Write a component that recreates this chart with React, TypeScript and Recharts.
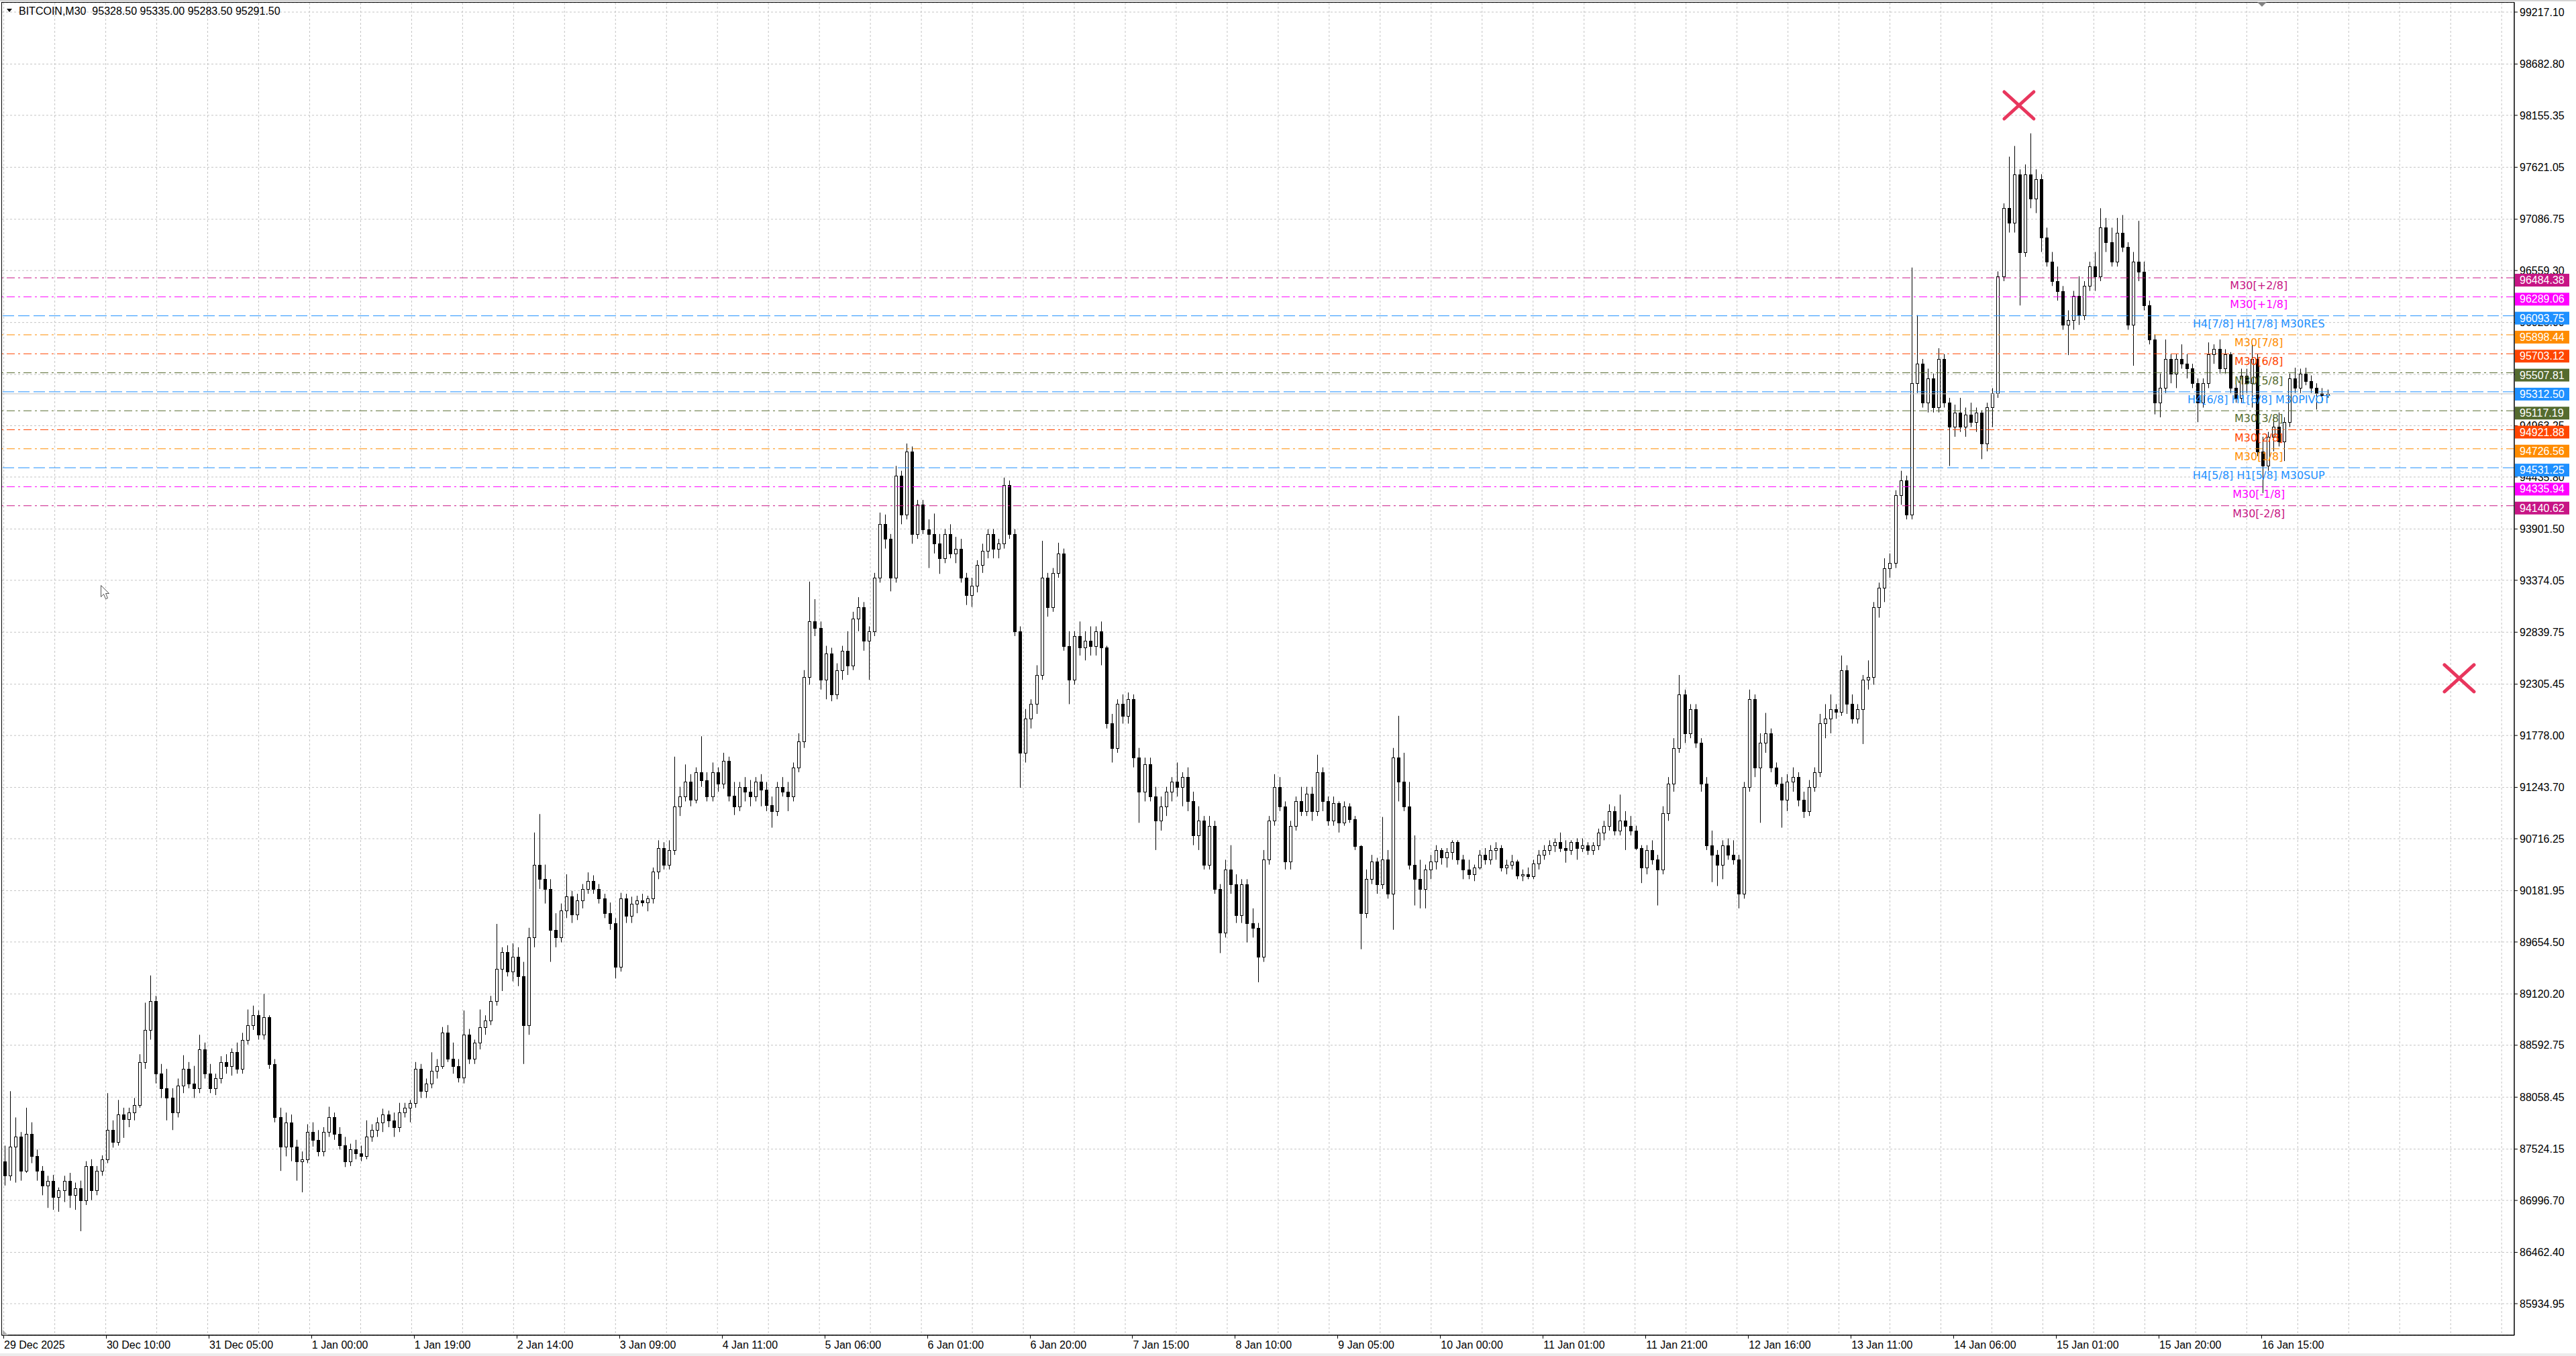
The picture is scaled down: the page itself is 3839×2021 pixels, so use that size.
import React from "react";
import { ComposedChart, Bar, XAxis, YAxis, CartesianGrid, ReferenceLine, Scatter } from "recharts";

const W = 3839;
const H = 2021;
const AXIS_FONT = '"Liberation Sans", Arial, sans-serif';
const LEVEL_FONT = '"DejaVu Sans", Verdana, sans-serif';

const symbol = "BITCOIN,M30";
const lastBar = [95328.5, 95335.0, 95283.5, 95291.5];
const bidPrice = 95291.5;

const timeLabels = [
  "29 Dec 2025", "30 Dec 10:00", "31 Dec 05:00", "1 Jan 00:00", "1 Jan 19:00", "2 Jan 14:00",
  "3 Jan 09:00", "4 Jan 11:00", "5 Jan 06:00", "6 Jan 01:00", "6 Jan 20:00", "7 Jan 15:00",
  "8 Jan 10:00", "9 Jan 05:00", "10 Jan 00:00", "11 Jan 01:00", "11 Jan 21:00", "12 Jan 16:00",
  "13 Jan 11:00", "14 Jan 06:00", "15 Jan 01:00", "15 Jan 20:00", "16 Jan 15:00",
];

const priceTicks = [
  99217.1, 98682.8, 98155.35, 97621.05, 97086.75, 96559.3, 96025.0, 95490.7, 94963.25,
  94435.8, 93901.5, 93374.05, 92839.75, 92305.45, 91778.0, 91243.7, 90716.25, 90181.95,
  89654.5, 89120.2, 88592.75, 88058.45, 87524.15, 86996.7, 86462.4, 85934.95,
];

// murrey math levels, top to bottom
const levelPrices = [
  96484.38, 96289.06, 96093.75, 95898.44, 95703.12, 95507.81, 95312.5,
  95117.19, 94921.88, 94726.56, 94531.25, 94335.94, 94140.62,
];
const levelNames = [
  "M30[+2/8]", "M30[+1/8]", "H4[7/8] H1[7/8] M30RES", "M30[7/8]", "M30[6/8]", "M30[5/8]",
  "H4[6/8] H1[6/8] M30PIVOT", "M30[3/8]", "M30[2/8]", "M30[1/8]", "H4[5/8] H1[5/8] M30SUP",
  "M30[-1/8]", "M30[-2/8]",
];
const levelColors = [
  "#C71585", "#FF00FF", "#1E90FF", "#FF8C00", "#FF4500", "#556B2F", "#1E90FF",
  "#556B2F", "#FF4500", "#FF8C00", "#1E90FF", "#FF00FF", "#C71585",
];

// hourly candles [open, high, low, close]
const hourlyOhlc: number[][] = [
  [87400, 87560, 87150, 87250], [87250, 88120, 87200, 87550], [87550, 87850, 87180, 87650], [87650, 87700, 87200, 87300], [87300, 87950, 87280, 87680],
  [87680, 87800, 87380, 87450], [87450, 87520, 87200, 87300], [87300, 87350, 87050, 87150], [87150, 87250, 86920, 87200], [87200, 87260, 86900, 87030],
  [87030, 87130, 86880, 87100], [87100, 87250, 86980, 87200], [87200, 87280, 86920, 87050], [87050, 87180, 86900, 87120], [87120, 87200, 86680, 87000],
  [87000, 87400, 86950, 87350], [87350, 87420, 87000, 87100], [87100, 87350, 87050, 87300], [87300, 87460, 87250, 87420], [87420, 88100, 87380, 87720],
  [87720, 87820, 87540, 87600], [87600, 88030, 87560, 87880], [87880, 87950, 87640, 87830], [87830, 87950, 87750, 87900], [87900, 88050, 87820, 87980],
  [87980, 88500, 87950, 88420], [88420, 89030, 88350, 88750], [88750, 89310, 88650, 89050], [89050, 89100, 88200, 88300], [88300, 88400, 88050, 88150],
  [88150, 88350, 87820, 88050], [88050, 88150, 87720, 87900], [87900, 88250, 87850, 88180], [88180, 88490, 88100, 88350], [88350, 88420, 88150, 88200],
  [88200, 88380, 88050, 88150], [88150, 88700, 88100, 88550], [88550, 88620, 88250, 88300], [88300, 88400, 88100, 88150], [88150, 88300, 88080, 88250],
  [88250, 88480, 88200, 88420], [88420, 88500, 88300, 88380], [88380, 88560, 88280, 88520], [88520, 88620, 88300, 88350], [88350, 88720, 88300, 88650],
  [88650, 88960, 88600, 88800], [88800, 89000, 88750, 88900], [88900, 88950, 88650, 88700], [88700, 89120, 88650, 88880], [88880, 88900, 88350, 88400],
  [88400, 88450, 87800, 87850], [87850, 87950, 87300, 87550], [87550, 87900, 87450, 87800], [87800, 87880, 87400, 87550], [87550, 87620, 87200, 87400],
  [87400, 87500, 87080, 87420], [87420, 87780, 87380, 87700], [87700, 87800, 87550, 87620], [87620, 87720, 87450, 87500], [87500, 87750, 87450, 87700],
  [87700, 87960, 87650, 87850], [87850, 87900, 87620, 87680], [87680, 87750, 87520, 87560], [87560, 87650, 87340, 87400], [87400, 87580, 87350, 87520],
  [87520, 87620, 87420, 87480], [87480, 87560, 87400, 87450], [87450, 87820, 87420, 87650], [87650, 87780, 87600, 87720], [87720, 87850, 87650, 87800],
  [87800, 87940, 87700, 87880], [87880, 87920, 87750, 87820], [87820, 87900, 87650, 87750], [87750, 88000, 87700, 87900], [87900, 88000, 87850, 87950],
  [87950, 88030, 87800, 88000], [88000, 88420, 87950, 88350], [88350, 88400, 88050, 88120], [88120, 88250, 88050, 88200], [88200, 88520, 88150, 88330],
  [88330, 88450, 88250, 88380], [88380, 88780, 88350, 88720], [88720, 88800, 88420, 88450], [88450, 88620, 88300, 88380], [88380, 88450, 88210, 88260],
  [88260, 88950, 88200, 88700], [88700, 88760, 88400, 88450], [88450, 88650, 88400, 88620], [88620, 88960, 88550, 88780], [88780, 88900, 88700, 88850],
  [88850, 89100, 88800, 89050], [89050, 89840, 89000, 89380], [89380, 89600, 89150, 89550], [89550, 89620, 89300, 89350], [89350, 89640, 89250, 89500],
  [89500, 89600, 89200, 89300], [89300, 89450, 88400, 88800], [88800, 89800, 88700, 89700], [89700, 90780, 89600, 90450], [90450, 90970, 90200, 90300],
  [90300, 90450, 90050, 90200], [90200, 90300, 89450, 89780], [89780, 89950, 89600, 89700], [89700, 90050, 89650, 89980], [89980, 90350, 89900, 90120],
  [90120, 90180, 89850, 89940], [89940, 90150, 89880, 90080], [90080, 90250, 90000, 90200], [90200, 90370, 90150, 90280], [90280, 90340, 90150, 90200],
  [90200, 90250, 90050, 90100], [90100, 90150, 89900, 89950], [89950, 90060, 89780, 89850], [89850, 89900, 89280, 89400], [89400, 90160, 89350, 90100],
  [90100, 90150, 89850, 89920], [89920, 90120, 89850, 90050], [90050, 90130, 89950, 90080], [90080, 90150, 90020, 90060], [90060, 90130, 89970, 90100],
  [90100, 90420, 90050, 90380], [90380, 90700, 90300, 90620], [90620, 90680, 90400, 90450], [90450, 90700, 90400, 90600], [90600, 91560, 90550, 91050],
  [91050, 91250, 90950, 91150], [91150, 91480, 91100, 91300], [91300, 91380, 91050, 91120], [91120, 91450, 91080, 91400], [91400, 91770, 91250, 91320],
  [91320, 91400, 91100, 91150], [91150, 91500, 91100, 91400], [91400, 91450, 91200, 91280], [91280, 91600, 91230, 91520], [91520, 91560, 91100, 91160],
  [91160, 91300, 90960, 91050], [91050, 91300, 91000, 91250], [91250, 91350, 91100, 91200], [91200, 91320, 91050, 91150], [91150, 91350, 91100, 91300],
  [91300, 91380, 91050, 91220], [91220, 91300, 91000, 91060], [91060, 91150, 90830, 91000], [91000, 91300, 90950, 91250], [91250, 91350, 91150, 91200],
  [91200, 91300, 91000, 91150], [91150, 91500, 91100, 91450], [91450, 91800, 91400, 91720], [91720, 92450, 91650, 92380], [92380, 93360, 92300, 92950],
  [92950, 93180, 92800, 92880], [92880, 92950, 92250, 92350], [92350, 92700, 92150, 92620], [92620, 92680, 92130, 92200], [92200, 92520, 92150, 92450],
  [92450, 92700, 92350, 92650], [92650, 92850, 92400, 92500], [92500, 93050, 92450, 92980], [92980, 93200, 92850, 93100], [93100, 93150, 92650, 92750],
  [92750, 92900, 92350, 92850], [92850, 93450, 92800, 93400], [93400, 94070, 93350, 93950], [93950, 94050, 93700, 93800], [93800, 93850, 93260, 93400],
  [93400, 94550, 93350, 94450], [94450, 94500, 93950, 94050], [94050, 94780, 94000, 94700], [94700, 94750, 93750, 93850], [93850, 94200, 93800, 94150],
  [94150, 94200, 93850, 93900], [93900, 94000, 93500, 93850], [93850, 94060, 93650, 93750], [93750, 93850, 93440, 93600], [93600, 93900, 93550, 93850],
  [93850, 93950, 93600, 93650], [93650, 93820, 93550, 93700], [93700, 93800, 93350, 93400], [93400, 93450, 93120, 93220], [93220, 93400, 93100, 93320],
  [93320, 93580, 93250, 93530], [93530, 93750, 93450, 93680], [93680, 93900, 93600, 93850], [93850, 93900, 93600, 93700], [93700, 93800, 93600, 93750],
  [93750, 94430, 93700, 94350], [94350, 94400, 93800, 93850], [93850, 93900, 92800, 92850], [92850, 92900, 91240, 91600], [91600, 92050, 91500, 91950],
  [91950, 92150, 91850, 92100], [92100, 92500, 92000, 92400], [92400, 93780, 92350, 93400], [93400, 93450, 93000, 93100], [93100, 93500, 93050, 93450],
  [93450, 93760, 93400, 93650], [93650, 93700, 92650, 92700], [92700, 92850, 92100, 92350], [92350, 92850, 92300, 92800], [92800, 92950, 92600, 92680],
  [92680, 92850, 92550, 92750], [92750, 92900, 92600, 92700], [92700, 92900, 92600, 92850], [92850, 92950, 92500, 92680], [92680, 92700, 91850, 91900],
  [91900, 92000, 91500, 91650], [91650, 92150, 91600, 92100], [92100, 92200, 91900, 91980], [91980, 92220, 91900, 92150], [92150, 92200, 91450, 91550],
  [91550, 91650, 90880, 91200], [91200, 91550, 91100, 91480], [91480, 91550, 91100, 91150], [91150, 91250, 90600, 90900], [90900, 91150, 90800, 91050],
  [91050, 91250, 90950, 91200], [91200, 91350, 91100, 91300], [91300, 91500, 91150, 91250], [91250, 91400, 91050, 91350], [91350, 91450, 91000, 91100],
  [91100, 91200, 90650, 90750], [90750, 91050, 90600, 90900], [90900, 90950, 90400, 90450], [90450, 90950, 90400, 90850], [90850, 90900, 90150, 90200],
  [90200, 90250, 89540, 89750], [89750, 90500, 89700, 90400], [90400, 90650, 90150, 90250], [90250, 90350, 89850, 89930], [89930, 90300, 89850, 90250],
  [90250, 90300, 89650, 89850], [89850, 90000, 89700, 89800], [89800, 89850, 89240, 89500], [89500, 90600, 89450, 90500], [90500, 90950, 90450, 90900],
  [90900, 91380, 90850, 91250], [91250, 91350, 91000, 91050], [91050, 91100, 90400, 90480], [90480, 90900, 90400, 90850], [90850, 91150, 90800, 91100],
  [91100, 91250, 90950, 91000], [91000, 91250, 90950, 91180], [91180, 91250, 90900, 91000], [91000, 91580, 90950, 91400], [91400, 91450, 91000, 91100],
  [91100, 91150, 90850, 90900], [90900, 91150, 90850, 91080], [91080, 91100, 90780, 90880], [90880, 91100, 90850, 91050], [91050, 91080, 90880, 90920],
  [90920, 90950, 90600, 90640], [90640, 90650, 89580, 89950], [89950, 90400, 89900, 90300], [90300, 90550, 90250, 90480], [90480, 90520, 90150, 90250],
  [90250, 90940, 90200, 90500], [90500, 90600, 90100, 90150], [90150, 91650, 89780, 91550], [91550, 91980, 91100, 91300], [91300, 91600, 91000, 91050],
  [91050, 91300, 90400, 90450], [90450, 90750, 90030, 90300], [90300, 90500, 90000, 90200], [90200, 90450, 90000, 90400], [90400, 90550, 90300, 90480],
  [90480, 90650, 90400, 90600], [90600, 90620, 90450, 90520], [90520, 90620, 90420, 90580], [90580, 90700, 90500, 90680], [90680, 90700, 90450, 90500],
  [90500, 90550, 90300, 90400], [90400, 90500, 90300, 90350], [90350, 90450, 90280, 90420], [90420, 90600, 90400, 90550], [90550, 90620, 90450, 90500],
  [90500, 90650, 90450, 90600], [90600, 90680, 90500, 90620], [90620, 90650, 90380, 90420], [90420, 90500, 90350, 90450], [90450, 90550, 90400, 90480],
  [90480, 90500, 90300, 90340], [90340, 90400, 90280, 90350], [90350, 90420, 90300, 90330], [90330, 90500, 90300, 90460], [90460, 90600, 90400, 90550],
  [90550, 90650, 90500, 90600], [90600, 90700, 90550, 90650], [90650, 90720, 90580, 90680], [90680, 90780, 90580, 90620], [90620, 90700, 90470, 90600],
  [90600, 90700, 90550, 90680], [90680, 90720, 90500, 90620], [90620, 90720, 90580, 90650], [90650, 90680, 90550, 90600], [90600, 90680, 90550, 90650],
  [90650, 90820, 90600, 90780], [90780, 90900, 90700, 90850], [90850, 91070, 90800, 91000], [91000, 91050, 90750, 90800], [90800, 91170, 90750, 90900],
  [90900, 91000, 90600, 90850], [90850, 90950, 90750, 90800], [90800, 90850, 90600, 90620], [90620, 90650, 90260, 90420], [90420, 90650, 90350, 90600],
  [90600, 90700, 90450, 90500], [90500, 90550, 90030, 90400], [90400, 91050, 90350, 90980], [90980, 91350, 90900, 91280], [91280, 91750, 91200, 91650],
  [91650, 92400, 91600, 92200], [92200, 92250, 91700, 91800], [91800, 92100, 91750, 92050], [92050, 92100, 91650, 91700], [91700, 91750, 91200, 91280],
  [91280, 91350, 90600, 90650], [90650, 90800, 90270, 90550], [90550, 90600, 90230, 90450], [90450, 90700, 90300, 90650], [90650, 90720, 90500, 90550],
  [90550, 90700, 90450, 90500], [90500, 90550, 90000, 90150], [90150, 91300, 90100, 91250], [91250, 92250, 91200, 92150], [92150, 92200, 91350, 91450],
  [91450, 91800, 90880, 91700], [91700, 92010, 91600, 91800], [91800, 91850, 91400, 91450], [91450, 91500, 91250, 91280], [91280, 91350, 90830, 91120],
  [91120, 91380, 91000, 91300], [91300, 91450, 91200, 91350], [91350, 91400, 91050, 91120], [91120, 91200, 90930, 91000], [91000, 91320, 90950, 91250],
  [91250, 91450, 91200, 91400], [91400, 92000, 91350, 91900], [91900, 92100, 91750, 91950], [91950, 92200, 91800, 92050], [92050, 92100, 91950, 92020],
  [92020, 92600, 91980, 92450], [92450, 92500, 92000, 92100], [92100, 92200, 91900, 91950], [91950, 92100, 91900, 92050], [92050, 92400, 91690, 92350],
  [92350, 92550, 92250, 92380], [92380, 93150, 92300, 93100], [93100, 93350, 92990, 93300], [93300, 93600, 93150, 93500], [93500, 93650, 93400, 93550],
  [93550, 94300, 93500, 94250], [94250, 94500, 94150, 94400], [94400, 94450, 94000, 94050], [94050, 96590, 94000, 95400], [95400, 96100, 95300, 95600],
  [95600, 95650, 95150, 95200], [95200, 95550, 95100, 95450], [95450, 95500, 95100, 95150], [95150, 95760, 95100, 95650], [95650, 95700, 95150, 95200],
  [95200, 95250, 94550, 94950], [94950, 95180, 94850, 95100], [95100, 95250, 94900, 94950], [94950, 95150, 94850, 95080], [95080, 95200, 94950, 95000],
  [95000, 95150, 94900, 95100], [95100, 95120, 94620, 94780], [94780, 95200, 94700, 95150], [95150, 95350, 94950, 95300], [95300, 96550, 95250, 96500],
  [96500, 97250, 96450, 97200], [97200, 97730, 96950, 97050], [97050, 97840, 96950, 97550], [97550, 97600, 96200, 96750], [96750, 97650, 96700, 97550],
  [97550, 97970, 97200, 97300], [97300, 97600, 97150, 97500], [97500, 97550, 96750, 96900], [96900, 97000, 96600, 96650], [96650, 96750, 96400, 96450],
  [96450, 96600, 96250, 96350], [96350, 96400, 95950, 96000], [96000, 96150, 95690, 96050], [96050, 96350, 95950, 96300], [96300, 96500, 96000, 96100],
  [96100, 96450, 96050, 96400], [96400, 96650, 96350, 96600], [96600, 96750, 96350, 96500], [96500, 97200, 96450, 97000], [97000, 97100, 96750, 96850],
  [96850, 97000, 96600, 96650], [96650, 97100, 96600, 96950], [96950, 97130, 96750, 96800], [96800, 96850, 95950, 96000], [96000, 96750, 95580, 96650],
  [96650, 97070, 96450, 96550], [96550, 96650, 96150, 96200], [96200, 96250, 95800, 95850], [95850, 95900, 95080, 95200], [95200, 95500, 95050, 95350],
  [95350, 95850, 95300, 95650], [95650, 95700, 95400, 95500], [95500, 95700, 95350, 95650], [95650, 95800, 95550, 95600], [95600, 95700, 95450, 95550],
  [95550, 95600, 95350, 95400], [95400, 95450, 95000, 95200], [95200, 95450, 95150, 95400], [95400, 95820, 95350, 95700], [95700, 95800, 95600, 95750],
  [95750, 95850, 95500, 95550], [95550, 95750, 95500, 95700], [95700, 95720, 95300, 95350], [95350, 95400, 95200, 95250], [95250, 95550, 95200, 95480],
  [95480, 95550, 95300, 95400], [95400, 95800, 95150, 95650], [95650, 95700, 94650, 94700], [94700, 94850, 94270, 94550], [94550, 94900, 94500, 94850],
  [94850, 95050, 94700, 94950], [94950, 95100, 94750, 94800], [94800, 95050, 94600, 95000], [95000, 95500, 94950, 95450], [95450, 95560, 95300, 95350],
  [95350, 95550, 95300, 95500], [95500, 95560, 95380, 95420], [95420, 95480, 95300, 95350], [95350, 95400, 95130, 95300], [95300, 95350, 95200, 95280],
  [95280, 95335, 95250, 95291.5],
];

// two cross objects placed on the chart (slot, price)
const crossMarks = [
  { slot: 372.9, price: 98258 },
  { slot: 454.4, price: 92366 },
];

const chartData = hourlyOhlc.map(([o, h, l, c], i) => ({ slot: i, o, h, l, c, range: [l, h] }));
const labelSlots = timeLabels.map((_, j) => j * 19 - 0.25);

const PLOT_LEFT = 3;
const PLOT_TOP = 4;
const AXIS_W = 91;
const TAG_AXIS_W = 1;
const AXIS_H = 31;
const PRICE_DOMAIN = [85610.7, 99313.7];
const gridXs = Array.from({ length: 50 }, (_, m) => PLOT_LEFT + 2.65 + m * 75.97);

const Candle = (props: any) => {
  const { x, y, width, height, payload } = props;
  if (x == null || y == null || !payload) return null;
  const { o, h, l, c } = payload;
  const span = h - l;
  const priceY = (p: number) => (span > 0 ? y + ((h - p) / span) * height : y);
  const cx = Math.round(x + width / 2) + 0.5;
  const top = Math.round(priceY(Math.max(o, c))) + 0.5;
  const bottom = Math.round(priceY(Math.min(o, c))) + 0.5;
  const up = c >= o;
  return (
    <g>
      <line x1={cx} x2={cx} y1={y} y2={y + height} stroke="#000" strokeWidth={1} />
      <rect
        x={cx - 2}
        y={top}
        width={4}
        height={Math.max(bottom - top, 1)}
        fill={up ? "#fff" : "#000"}
        stroke="#000"
        strokeWidth={1}
      />
    </g>
  );
};

const CrossMark = (props: any) => {
  const { cx, cy } = props;
  if (cx == null || cy == null) return null;
  return (
    <g stroke="#e8365d" strokeWidth={5} strokeLinecap="round">
      <line x1={cx - 22} y1={cy - 20} x2={cx + 22} y2={cy + 20} />
      <line x1={cx - 22} y1={cy + 20} x2={cx + 22} y2={cy - 20} />
    </g>
  );
};

const TimeTick = (props: any) => {
  const { x, y, index } = props;
  return (
    <g>
      <line x1={Math.round(x) + 0.5} x2={Math.round(x) + 0.5} y1={y} y2={y + 5} stroke="#000" />
      <text x={x + 1} y={y + 20} fontSize={16} fontFamily={AXIS_FONT} fill="#000" textAnchor="start">
        {timeLabels[index]}
      </text>
    </g>
  );
};

// coloured price tag on the right scale, drawn by a second thin price axis
// placed after the main one, so the tags sit on top of the scale labels
const LevelTag = (props: any) => {
  const { x, y, payload } = props;
  const i = levelPrices.indexOf(payload?.value);
  if (i < 0 || x == null || y == null) return null;
  const left = W - AXIS_W - TAG_AXIS_W + 1;
  return (
    <g>
      <rect x={left} y={y - 6} width={81} height={19} fill={levelColors[i]} />
      <text x={left + 7} y={y + 9} fontSize={16} fontFamily={AXIS_FONT} fill="#fff">
        {levelPrices[i].toFixed(2)}
      </text>
    </g>
  );
};

const levelLabel = (i: number) => (props: any) => {
  const vb = props.viewBox;
  if (!vb) return null;
  return (
    <text
      x={vb.x + vb.width * 0.8983}
      y={vb.y + 17}
      fontSize={16}
      fontFamily={LEVEL_FONT}
      fill={levelColors[i]}
      textAnchor="middle"
    >
      {levelNames[i]}
    </text>
  );
};

export default function App() {
  return (
    <div style={{ position: "absolute", left: 0, top: 0, width: W, height: H, background: "#fff", overflow: "hidden" }}>
      <ComposedChart
        width={W}
        height={H}
        data={chartData}
        margin={{ top: PLOT_TOP, right: 0, bottom: 0, left: PLOT_LEFT }}
      >
        <CartesianGrid stroke="#c4c4c4" strokeDasharray="3 3" verticalPoints={gridXs} />
        <XAxis
          dataKey="slot"
          type="number"
          domain={[-0.4984, 464.59]}
          allowDataOverflow
          ticks={labelSlots}
          interval={0}
          height={AXIS_H}
          tickSize={0}
          tickMargin={0}
          tickLine={false}
          axisLine={{ stroke: "#000" }}
          tick={<TimeTick />}
        />
        <YAxis
          orientation="right"
          type="number"
          domain={PRICE_DOMAIN}
          allowDataOverflow
          ticks={priceTicks}
          interval={0}
          width={AXIS_W}
          tickSize={5}
          tickMargin={3}
          axisLine={{ stroke: "#000" }}
          tickLine={{ stroke: "#000" }}
          tick={{ fill: "#000", fontSize: 16, fontFamily: AXIS_FONT }}
          tickFormatter={(v: number) => v.toFixed(2)}
        />
        <YAxis
          yAxisId="tags"
          orientation="right"
          type="number"
          domain={PRICE_DOMAIN}
          allowDataOverflow
          ticks={levelPrices}
          interval={0}
          width={TAG_AXIS_W}
          tickSize={0}
          tickMargin={0}
          axisLine={false}
          tickLine={false}
          tick={<LevelTag />}
        />
        <ReferenceLine y={bidPrice} stroke="#c0c0c0" />
        {levelPrices.map((p, i) => (
          <ReferenceLine
            key={p}
            y={p}
            stroke={levelColors[i]}
            strokeDasharray={levelNames[i].startsWith("H4") ? "17 6" : "12 5 3 5"}
            label={levelLabel(i)}
          />
        ))}
        <Bar dataKey="range" barSize={6} shape={(p: any) => <Candle {...p} />} isAnimationActive={false} />
        <Scatter data={crossMarks} dataKey="price" shape={(p: any) => <CrossMark {...p} />} isAnimationActive={false} />
      </ComposedChart>
      <svg
        width={W}
        height={H}
        style={{ position: "absolute", left: 0, top: 0, pointerEvents: "none" }}
      >
        <rect x={0} y={0} width={W} height={2} fill="#d4d4d4" />
        <rect x={0} y={H - 4} width={W} height={4} fill="#ececec" />
        <rect x={2.5} y={3.5} width={3744.5} height={1986.5} fill="none" stroke="#000" />
        <polygon points="10,13 18,13 14,18" fill="#000" />
        <text x={28} y={21.5} fontSize={16} fontFamily={AXIS_FONT} fill="#000" style={{ whiteSpace: "pre" }}>
          {`${symbol}  ${lastBar.map((v) => v.toFixed(2)).join(" ")}`}
        </text>
        <polygon points="3364,3 3378,3 3371,10" fill="#808080" />
        <polygon points="4,1982 4,1990 12,1990" fill="#b0b0b0" />
        <path d="M150.5 872.5 L150.5 889.5 L154.5 885.5 L157.5 892.5 L160.5 891.5 L157.5 884.5 L162.5 884.5 Z" fill="#fff" stroke="#555" />
      </svg>
    </div>
  );
}
